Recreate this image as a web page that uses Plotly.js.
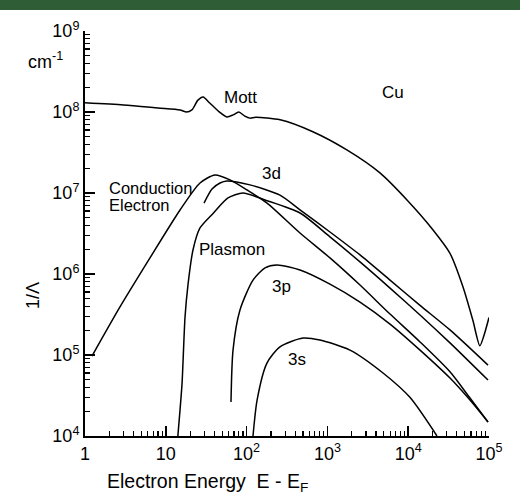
<!DOCTYPE html>
<html><head><meta charset="utf-8">
<script src="https://cdn.plot.ly/plotly-3.0.1.min.js"></script>
<style>
html,body{margin:0;padding:0;width:520px;height:501px;overflow:hidden;background:#2e5d36;}
#chart{position:absolute;left:0px;top:10px;width:520px;height:491px;background:#fff;}
</style></head><body>
<div id="chart"></div>
<script>
// Electron energy E - E_F (eV) and inverse mean free path 1/Lambda (cm^-1)
const mottE = [1, 3, 8, 15, 18, 21, 25, 29, 35, 45, 57, 68, 80, 95, 110, 130, 260, 660, 1740, 4470, 9660, 20300, 32900, 47700, 63000, 77000, 86000, 100000];
const mottV = [1.3e8, 1.22e8, 1.12e8, 1.06e8, 1.0e8, 1.06e8, 1.4e8, 1.53e8, 1.29e8, 1.02e8, 8.7e7, 9.2e7, 1.0e8, 8.9e7, 8.4e7, 8.6e7, 8.0e7, 5.7e7, 3.4e7, 1.77e7, 8.2e6, 3.5e6, 1.8e6, 6.9e5, 2.7e5, 1.3e5, 1.7e5, 2.9e5];

const condE = [1.22, 2.71, 6.37, 15.0, 26.5, 40.6, 62.3, 101, 179, 458, 1076, 2531, 5956, 14000, 32900, 58200, 97200];
const condV = [9.7e4, 3.92e5, 1.58e6, 6.17e6, 1.33e7, 1.67e7, 1.45e7, 1.09e7, 7.5e6, 3.21e6, 1.58e6, 7.3e5, 3.2e5, 1.45e5, 6.2e4, 2.94e4, 1.49e4];

const d3E = [29.7, 37.3, 46.9, 57, 110, 259, 458, 1076, 2531, 5956, 14000, 32900, 97200];
const d3V = [7.5e6, 1.12e7, 1.33e7, 1.41e7, 1.26e7, 9.4e6, 6.2e6, 3.3e6, 1.72e6, 8.4e5, 4.1e5, 2.04e5, 7.5e4];

const plasE = [14.1, 15.0, 15.9, 17.3, 18.8, 21.7, 26.5, 38.5, 58.8, 90.2, 169, 458, 1076, 2531, 5956, 14000, 32900, 97200];
const plasV = [1.0e4, 2.1e4, 4.5e4, 2.95e5, 7.3e5, 1.98e6, 3.7e6, 5.6e6, 8.7e6, 1.0e7, 8.2e6, 5.66e6, 2.87e6, 1.41e6, 6.7e5, 3.12e5, 1.41e5, 4.9e4];

const p3E = [64.1, 67.9, 82.8, 120, 169, 238, 458, 1076, 2531, 5956, 14000, 32900, 58200, 97200];
const p3V = [2.63e4, 1.15e5, 3.6e5, 8.4e5, 1.19e6, 1.29e6, 1.12e6, 7.5e5, 4.5e5, 2.41e5, 1.15e5, 5.2e4, 2.78e4, 1.49e4];

const s3E = [120, 135, 178, 259, 499, 809, 1900, 4880, 10500, 22700];
const s3V = [1.0e4, 2.8e4, 7.9e4, 1.26e5, 1.62e5, 1.53e5, 1.15e5, 6.0e4, 3.0e4, 1.0e4];

const xTickVals = [1, 10, 100, 1000, 10000, 100000];
const xTickText = ["1", "10", "10<sup>2</sup>", "10<sup>3</sup>", "10<sup>4</sup>", "10<sup>5</sup>"];
const yTickVals = [1e4, 1e5, 1e6, 1e7, 1e8, 1e9];
const yTickText = ["10<sup>4</sup>", "10<sup>5</sup>", "10<sup>6</sup>", "10<sup>7</sup>", "10<sup>8</sup>", "10<sup>9</sup>"];

const line = {color: "#000", width: 1.5, shape: "spline", smoothing: 0.7};
function tr(x, y, name) { return {x: x, y: y, mode: "lines", name: name, line: line, hoverinfo: "skip"}; }
const data = [
  tr(mottE, mottV, "Mott"),
  tr(condE, condV, "Conduction Electron"),
  tr(d3E, d3V, "3d"),
  tr(plasE, plasV, "Plasmon"),
  tr(p3E, p3V, "3p"),
  tr(s3E, s3V, "3s")
];

const F = "Liberation Sans, Arial, sans-serif";
function ann(x, y, text, xanchor, size, h) {
  const a = {x: Math.log10(x), y: Math.log10(y), xref: "x", yref: "y", text: text, showarrow: false,
          xanchor: xanchor || "center", yanchor: "middle", font: {family: F, size: size || 17, color: "#000"}};
  if (h) a.height = h;
  return a;
}
function pann(x, y, text, xanchor, size, angle) {
  return {x: x, y: y, xref: "paper", yref: "paper", text: text, showarrow: false, textangle: angle || 0,
          xanchor: xanchor, yanchor: "middle", font: {family: F, size: size, color: "#000"}};
}
const layout = {
  width: 520, height: 491,
  margin: {l: 85, r: 31, t: 21, b: 65},
  paper_bgcolor: "#fff", plot_bgcolor: "#fff",
  showlegend: false,
  font: {family: F, color: "#000", size: 18},
  xaxis: {type: "log", range: [0, 5], showgrid: false, zeroline: false,
          showline: true, linecolor: "#000", linewidth: 2, mirror: false,
          ticks: "inside", ticklen: 10, tickwidth: 1.5, tickcolor: "#000",
          tickvals: xTickVals, ticktext: xTickText, tickfont: {family: F, size: 18},
          minor: {ticks: "inside", ticklen: 5, tickwidth: 1.2, tickcolor: "#000", dtick: "D1", showgrid: false}},
  yaxis: {type: "log", range: [4, 9], showgrid: false, zeroline: false,
          showline: true, linecolor: "#000", linewidth: 2, mirror: false,
          ticks: "inside", ticklen: 10, tickwidth: 1.5, tickcolor: "#000",
          tickvals: yTickVals, ticktext: yTickText, tickfont: {family: F, size: 18},
          minor: {ticks: "inside", ticklen: 5, tickwidth: 1.2, tickcolor: "#000", dtick: "D1", showgrid: false}},
  annotations: [
    pann(-0.0495, 0.928, "cm<sup>-1</sup>", "right", 18),
    pann(0.0495, -0.116, "Electron Energy  E - E<sub>F</sub>", "left", 19.5),
    pann(-0.129, 0.348, "1/Λ", "center", 18, -90),
    ann(83, 1.53e8, "Mott"),
    ann(6500, 1.72e8, "Cu"),
    ann(206, 1.72e7, "3d"),
    ann(1.87, 1.17e7, "Conduction", "left", 16.5, 15),
    ann(1.87, 7.2e6, "Electron", "left", 16.5, 15),
    ann(66, 1.98e6, "Plasmon"),
    ann(267, 7.1e5, "3p"),
    ann(421, 8.9e4, "3s")
  ]
};
Plotly.newPlot("chart", data, layout, {staticPlot: true, displayModeBar: false});
</script>
</body></html>
